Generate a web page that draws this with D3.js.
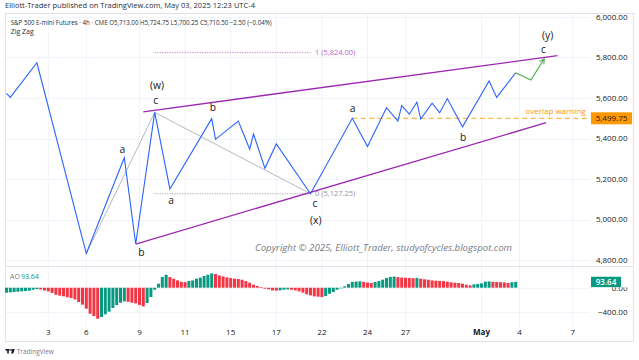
<!DOCTYPE html>
<html><head><meta charset="utf-8">
<script src="https://cdn.jsdelivr.net/npm/d3@7"></script>
<style>body{margin:0;background:#fff;} svg{display:block;} text{font-family:"Open Sans",sans-serif;}</style>
</head><body><svg id="c" width="639" height="360"></svg>
<script>
// ---------- data ----------
const zigBars   = [0,1,8,21,31,34,39,43,54,55,61,64,65,68,71,80,91,95,100,103,104,106,108,109,112,114,116,120,127,129,134];
const zigPrices = [5623,5603,5774,4832,5305,4879,5528.75,5151,5498,5396,5486,5347,5422,5253,5373,5127.25,5499.75,5360,5552,5486,5562,5520,5579,5496,5574,5527,5597,5458,5684,5603,5724.75];
const projBars   = [134,138,141.5];
const projPrices = [5724.75,5689,5793];
const upperBars = [36,145],  upperPrices = [5532,5809];
const lowerBars = [34,142],  lowerPrices = [4879,5478];
const fibBars   = [21,39,80], fibPrices = [4832,5528.75,5127.25];
const fibLevelBars = [39,80];
const fibLevels = [5824,5127.25];
const fibLevelLabels = ["1 (5,824.00)","0 (5,127.25)"];
const overlapBar = 91, overlapPrice = 5499.75, overlapLabel = "overlap warning";
const waveText   = ["a","b","(w)","c","a","b","c","(x)","a","b","(y)","c"];
const waveBars   = [30.5,35.5,39.6,39.3,43.3,54.3,81.2,81.4,91.1,120.2,142.4,141.3];
const wavePrices = [5348,4838,5660,5588,5093,5554,5080,4994,5549,5404,5907,5838];
const aoValues = [-81,-76,-70,-65,-60,-54,-49,-33,-22,-30,-45,-60,-85,-115,-130,-140,-155,-168,-190,-233,
  -276,-341,-423,-461,-504,-477,-433,-390,-330,-282,-244,-222,-230,-244,-255,-280,-304,-249,-152,-33,
  65,173,211,173,146,119,95,90,108,119,146,163,190,211,233,222,200,184,168,157,
  146,141,130,108,81,49,27,11,-16,-27,-45,-49,-43,-33,-27,-33,-43,-60,-81,-108,
  -125,-141,-146,-152,-135,-98,-70,-33,-11,22,60,95,100,104,95,84,76,92,108,130,
  157,176,181,173,165,162,157,154,158,146,136,130,119,114,110,107,98,87,81,76,
  65,49,38,54,60,70,98,103,95,92,89,86,76,90,93.64];
const timeTickBars   = [11,21,35,47,59,71,83,95,105,125,135,149];
const timeTickLabels = ["3","6","9","11","15","17","22","24","27","May","4","7"];
const priceTicks = [4800,5000,5200,5400,5600,5800,6000];
const aoTicks = [0,-400];
const lastPrice = 5499.75;
const lastAO = 93.64;

// ---------- layout ----------
const L = 5, R = 590, AXR = 633, TOP = 13, SEP = 266, AOB = 327, BOT = 341;
const svg = d3.select("#c");
const X  = d3.scaleLinear().domain([0,149]).range([6.5,572.7]);
const Y  = d3.scaleLinear().domain([4800,6000]).range([260.0,17.0]);
const YA = d3.scaleLinear().domain([-400,0]).range([312.3,287.7]);
const grid = "#f0f3fa", border = "#e0e3eb", txt = "#131722";
const fmt = d3.format(",.2f");

const defs = svg.append("defs");
defs.append("clipPath").attr("id","mainClip").append("rect").attr("x",L).attr("y",TOP).attr("width",R-L).attr("height",SEP-TOP);
defs.append("clipPath").attr("id","aoClip").append("rect").attr("x",L).attr("y",SEP).attr("width",R-L).attr("height",AOB-SEP);
defs.append("clipPath").attr("id","zeroClip").append("rect").attr("x",590).attr("y",YA(lastAO)+5.2).attr("width",45).attr("height",8);

// grid
const g = svg.append("g");
g.selectAll(".vg").data(timeTickBars).join("line")
  .attr("x1",d=>X(d)).attr("x2",d=>X(d)).attr("y1",TOP).attr("y2",AOB).attr("stroke",grid);
g.selectAll(".hg").data(priceTicks).join("line")
  .attr("x1",L).attr("x2",R).attr("y1",d=>Math.round(Y(d))+0.5).attr("y2",d=>Math.round(Y(d))+0.5).attr("stroke",grid);
g.selectAll(".ag").data(aoTicks).join("line")
  .attr("x1",L).attr("x2",R).attr("y1",d=>Math.round(YA(d))+0.5).attr("y2",d=>Math.round(YA(d))+0.5).attr("stroke",grid);

// frame
const fr = svg.append("g").attr("stroke",border).attr("fill","none");
fr.append("rect").attr("x",L+0.5).attr("y",TOP+0.5).attr("width",AXR-L).attr("height",BOT-TOP);
fr.append("line").attr("x1",L).attr("x2",AXR).attr("y1",SEP+0.5).attr("y2",SEP+0.5);

// header
const hd = svg.append("g").attr("fill","#2a2e39").style("font-size","7px");
hd.append("text").attr("x",5).attr("y",7.8).attr("textLength",250).attr("lengthAdjust","spacingAndGlyphs")
  .text("Elliott-Trader published on TradingView.com, May 03, 2025 12:23 UTC-4");
hd.append("text").attr("x",10.7).attr("y",24.8).attr("textLength",261).attr("lengthAdjust","spacingAndGlyphs")
  .text("S&P 500 E-mini Futures · 4h · CME  O5,713.00  H5,724.75  L5,700.25  C5,710.50  −2.50 (−0.04%)");
hd.append("text").attr("x",10.7).attr("y",33.5).text("Zig Zag");

// main pane drawings
const m = svg.append("g").attr("clip-path","url(#mainClip)");
const line = (bars,prices)=>d3.line().x((d,i)=>X(bars[i])).y((d,i)=>Y(prices[i]))(bars);

// copyright
m.append("text").attr("x",255).attr("y",250.9).attr("fill","#787b86").style("font-style","italic").style("font-size","9.3px")
  .attr("textLength",257).attr("lengthAdjust","spacingAndGlyphs")
  .text("Copyright © 2025, Elliott_Trader, studyofcycles.blogspot.com");

// fib tool
m.append("path").attr("d",line(fibBars,fibPrices)).attr("fill","none").attr("stroke","#a3a6af").attr("stroke-width",0.8);
const fibColors = ["#ba68c8","#9598a1"];
fibLevels.forEach((lv,k)=>{
  m.append("line").attr("x1",X(fibLevelBars[0])).attr("x2",X(fibLevelBars[1])).attr("y1",Y(lv)).attr("y2",Y(lv))
    .attr("stroke",fibColors[k]).attr("stroke-width",1).attr("stroke-dasharray","1,1.5");
  m.append("text").attr("x",X(fibLevelBars[1])+4.5).attr("y",Y(lv)+2.6).attr("fill",fibColors[k]).style("font-size","7.5px").text(fibLevelLabels[k]);
});

// channel
[[upperBars,upperPrices],[lowerBars,lowerPrices]].forEach(([b,p])=>{
  m.append("path").attr("d",line(b,p)).attr("stroke","#9c27b0").attr("stroke-width",1.3).attr("fill","none");
});

// overlap
m.append("line").attr("x1",X(overlapBar)).attr("x2",R).attr("y1",Y(overlapPrice)).attr("y2",Y(overlapPrice))
  .attr("stroke","#ff9800").attr("stroke-width",1).attr("stroke-dasharray","5,3.5").attr("opacity",0.85);
m.append("text").attr("x",585.5).attr("y",Y(overlapPrice)-4).attr("text-anchor","end").attr("fill","#ff9800").style("font-size","8px").text(overlapLabel);

// zigzag
m.append("path").attr("d",line(zigBars,zigPrices)).attr("fill","none").attr("stroke","#2962ff").attr("stroke-width",1.1).attr("stroke-linejoin","miter");
// projection arrow
m.append("path").attr("d",line(projBars,projPrices)).attr("fill","none").attr("stroke","#4caf50").attr("stroke-width",1.1);
{
  const n = projBars.length;
  const x1=X(projBars[n-2]), y1=Y(projPrices[n-2]), x2=X(projBars[n-1]), y2=Y(projPrices[n-1]);
  const a = Math.atan2(y2-y1,x2-x1), h=5.5;
  const p1=[x2-h*Math.cos(a-0.5), y2-h*Math.sin(a-0.5)], p2=[x2-h*Math.cos(a+0.5), y2-h*Math.sin(a+0.5)];
  m.append("path").attr("d",`M${p1}L${x2},${y2}L${p2}`).attr("fill","none").attr("stroke","#4caf50").attr("stroke-width",1.1);
}

// wave labels
m.selectAll(".wl").data(waveText).join("text")
  .attr("x",(d,i)=>X(waveBars[i])).attr("y",(d,i)=>Y(wavePrices[i])+3.5)
  .attr("text-anchor","middle").attr("fill",txt).style("font-size","10.3px").text(d=>d);

// AO
const ao = svg.append("g").attr("clip-path","url(#aoClip)");
ao.selectAll("rect").data(aoValues).join("rect")
  .attr("x",(d,i)=>X(i)-1.5).attr("width",3)
  .attr("y",d=>Math.min(YA(d),YA(0))).attr("height",d=>Math.abs(YA(d)-YA(0)))
  .attr("fill",(d,i)=> (i===0 || d>=aoValues[i-1]) ? "#089981" : "#f23645");
svg.append("text").attr("x",10).attr("y",278.5).attr("fill","#787b86").style("font-size","7px").text("AO");
svg.append("text").attr("x",21).attr("y",278.5).attr("fill","#089981").style("font-size","7px").text(fmt(lastAO));

// price axis
const pa = svg.append("g").style("font-size","8px").attr("fill",txt).attr("text-anchor","end");
pa.selectAll(".pt").data(priceTicks).join("text").attr("x",627.5).attr("y",d=>Y(d)+2.8).text(d=>fmt(d));
pa.selectAll(".at").data(aoTicks).join("text").attr("x",627.5).attr("y",d=>YA(d)+2.8)
  .attr("clip-path",d=>d===0?"url(#zeroClip)":null).text(d=>fmt(d).replace("-","−"));
// last value tags
svg.append("rect").attr("x",591).attr("y",Y(lastPrice)-6).attr("width",41).attr("height",12).attr("fill","#ff9800");
svg.append("text").attr("x",611.5).attr("y",Y(lastPrice)+2.8).attr("text-anchor","middle").attr("fill",txt).style("font-size","8px").text(fmt(lastPrice));
svg.append("rect").attr("x",591).attr("y",YA(lastAO)-5.2).attr("width",30).attr("height",10.4).attr("fill","#089981");
svg.append("text").attr("x",606).attr("y",YA(lastAO)+2.8).attr("text-anchor","middle").attr("fill","#fff").style("font-size","8px").style("font-weight","600").text(fmt(lastAO));

// time axis
svg.append("g").style("font-size","8px").attr("fill",txt).attr("text-anchor","middle")
  .selectAll("text").data(timeTickLabels).join("text")
  .attr("x",(d,i)=>X(timeTickBars[i])).attr("y",335)
  .style("font-weight",d=>d==="May"?"700":"400").text(d=>d);

// TradingView logo
const lg = svg.append("g").attr("fill","#131722");
lg.append("rect").attr("x",5.5).attr("y",349).attr("width",4).attr("height",1.6);
lg.append("rect").attr("x",7.2).attr("y",349).attr("width",1.6).attr("height",4.5);
lg.append("circle").attr("cx",11).attr("cy",349.9).attr("r",0.9);
lg.append("path").attr("d","M12.3,349 L14.8,349 L13.2,353.5 L11.2,353.5 Z");
svg.append("text").attr("x",16.7).attr("y",354).attr("fill","#787b86").style("font-size","6.5px").text("TradingView");
</script></body></html>
